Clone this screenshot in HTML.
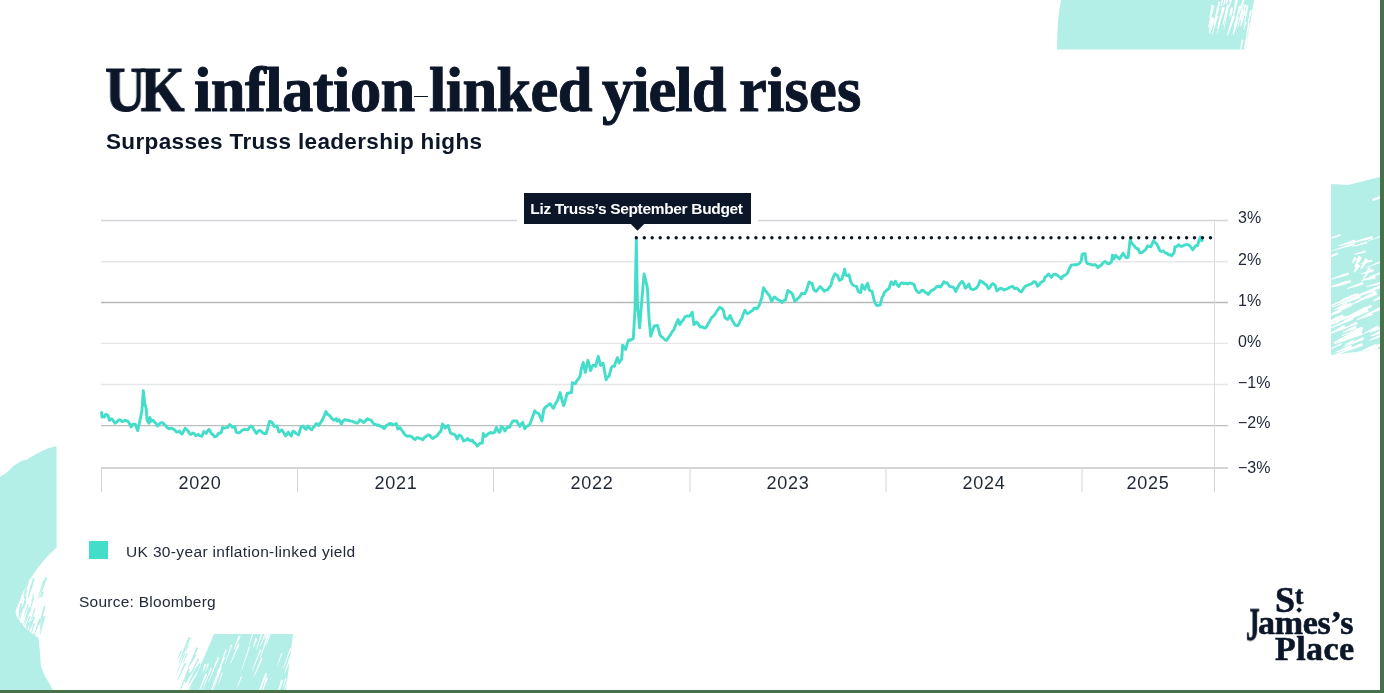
<!DOCTYPE html>
<html><head><meta charset="utf-8"><style>
html,body{margin:0;padding:0;}
body{width:1384px;height:693px;position:relative;overflow:hidden;background:#fff;font-family:"Liberation Sans",sans-serif;}
.abs{position:absolute;}
.tw,#sub,.yl,.xl,#tip,#legt,#src,.logo{will-change:transform;}
.tw{position:absolute;top:55px;font-family:"Liberation Serif",serif;font-weight:bold;font-size:62.5px;line-height:70px;color:#0b1629;white-space:nowrap;letter-spacing:-1.55px;-webkit-text-stroke:1px #0b1629;}
#sub{position:absolute;left:106px;top:127px;font-size:22.5px;line-height:30px;letter-spacing:0.35px;font-weight:bold;color:#0b1629;white-space:nowrap;}
.yl{position:absolute;left:1238px;font-size:16px;line-height:20px;color:#1e2638;white-space:nowrap;}
.xl{position:absolute;top:473px;width:100px;text-align:center;font-size:18px;letter-spacing:0.7px;line-height:20px;color:#1e2638;}
#tip{position:absolute;left:524px;top:193px;width:227px;height:31px;background:#0b1629;color:#fff;font-weight:bold;font-size:15.5px;line-height:31px;text-align:center;letter-spacing:-0.33px;text-indent:-2px;white-space:nowrap;}
#leg{position:absolute;left:89px;top:541px;width:19px;height:18px;background:#43ddc9;}
#legt{position:absolute;left:126px;top:542px;font-size:15.5px;letter-spacing:0.35px;line-height:20px;color:#222a3a;white-space:nowrap;}
#src{position:absolute;left:79px;top:592px;font-size:15.5px;letter-spacing:0.25px;line-height:20px;color:#222a3a;white-space:nowrap;}
.logo{position:absolute;font-family:"Liberation Serif",serif;font-weight:bold;color:#0b1629;-webkit-text-stroke:0.6px #0b1629;white-space:nowrap;}
</style></head><body>
<svg class="abs" style="left:0;top:0" width="1384" height="693" viewBox="0 0 1384 693">
  <defs>
   <clipPath id="cT"><path d="M1061 0 L1254 0 L1249 30 L1246 49.5 L1057 49.5 Q1057 20 1061 0 Z"/></clipPath>
   <clipPath id="cR"><path d="M1331 184 L1348 185 L1380 177 L1380 349 L1331 355 Z"/></clipPath>
   <clipPath id="cB"><path d="M214 634 L293 634 L286 690 L190 690 Z"/></clipPath>
  </defs>
  <path d="M1061 0 L1254 0 L1249 30 L1246 49.5 L1057 49.5 Q1057 20 1061 0 Z" fill="#b3efe7"/>
  <g clip-path="url(#cT)" fill="#fff"><polygon points="1212.4,35.0 1218.1,16.1 1216.4,15.7 1211.9,34.9"/><polygon points="1224.0,29.5 1228.4,9.8 1227.0,9.5 1223.6,29.4"/><polygon points="1236.9,22.6 1242.3,3.6 1241.1,3.3 1236.6,22.5"/><polygon points="1233.5,18.2 1239.0,-4.1 1236.0,-4.7 1232.6,18.1"/><polygon points="1208.7,27.5 1214.4,5.3 1212.5,4.9 1208.1,27.3"/><polygon points="1223.8,5.8 1227.1,-3.7 1225.1,-4.2 1223.2,5.6"/><polygon points="1217.3,11.8 1220.3,2.3 1218.3,1.8 1216.7,11.7"/><polygon points="1209.4,33.0 1213.7,17.6 1211.3,17.0 1208.7,32.9"/><polygon points="1243.8,29.8 1246.8,22.2 1245.0,21.6 1243.3,29.6"/><polygon points="1233.4,34.7 1238.2,22.0 1235.4,21.2 1232.6,34.5"/><polygon points="1218.2,28.3 1224.9,7.4 1222.1,6.7 1217.4,28.1"/><polygon points="1229.7,6.2 1233.3,-3.6 1230.5,-4.3 1228.9,6.0"/><polygon points="1214.2,25.6 1219.5,7.7 1217.1,7.1 1213.4,25.4"/><polygon points="1223.2,25.0 1228.9,5.8 1226.7,5.3 1222.6,24.9"/><polygon points="1226.4,4.2 1229.5,-1.9 1227.0,-2.7 1225.7,4.0"/><polygon points="1229.6,16.2 1233.3,7.9 1231.2,7.2 1229.0,16.0"/><polygon points="1234.4,26.6 1240.6,6.0 1239.0,5.6 1233.9,26.5"/><polygon points="1241.7,24.3 1246.1,10.7 1244.4,10.2 1241.2,24.1"/><polygon points="1240.8,9.9 1248.0,-8.9 1245.3,-9.8 1240.0,9.6"/><polygon points="1234.3,31.8 1239.0,17.1 1236.7,16.6 1233.7,31.6"/><polygon points="1210.1,34.0 1214.8,18.5 1213.3,18.0 1209.6,33.9"/><polygon points="1225.6,16.7 1229.8,5.1 1227.6,4.5 1225.0,16.5"/><polygon points="1231.0,17.0 1232.9,10.7 1231.3,10.4 1230.5,16.9"/><polygon points="1227.8,35.7 1234.9,16.5 1232.2,15.7 1227.0,35.4"/><polygon points="1217.4,34.2 1221.4,16.5 1220.0,16.2 1217.0,34.1"/><polygon points="1209.3,27.8 1212.6,17.8 1211.3,17.4 1208.9,27.7"/><polygon points="1221.4,6.5 1224.1,-2.0 1221.9,-2.5 1220.8,6.3"/><polygon points="1218.0,28.3 1222.3,14.7 1220.5,14.3 1217.5,28.1"/><polygon points="1209.7,18.3 1213.0,5.1 1211.5,4.8 1209.2,18.2"/><polygon points="1240.4,20.1 1244.1,11.0 1241.8,10.3 1239.7,19.8"/><polygon points="1245.8,41.8 1249.7,23.1 1248.1,22.8 1245.3,41.7"/><polygon points="1248.2,24.4 1251.9,10.7 1250.0,10.3 1247.6,24.2"/><polygon points="1240.9,26.7 1243.5,17.9 1241.3,17.5 1240.3,26.5"/><polygon points="1239.1,59.0 1243.5,39.9 1241.6,39.5 1238.5,58.8"/><polygon points="1241.7,17.7 1244.0,3.6 1242.9,3.4 1241.4,17.7"/><polygon points="1242.6,17.9 1246.2,4.8 1244.6,4.4 1242.1,17.8"/><polygon points="1247.4,42.6 1250.5,28.9 1248.5,28.5 1246.8,42.5"/><polygon points="1242.8,59.7 1247.6,40.4 1245.4,39.9 1242.1,59.6"/><polygon points="1244.0,24.8 1246.8,13.7 1245.7,13.5 1243.7,24.8"/><polygon points="1245.4,50.1 1249.0,38.0 1246.6,37.4 1244.7,49.9"/><polygon points="1238.0,27.6 1243.1,9.4 1241.4,9.0 1237.5,27.5"/><polygon points="1245.6,20.7 1248.5,5.4 1246.4,5.1 1244.9,20.6"/></g>
  <path d="M1331 184 L1348 185 L1380 177 L1380 349 L1331 355 Z" fill="#b3efe7"/>
  <g clip-path="url(#cR)" fill="#fff"><polygon points="1373.6,288.6 1382.4,286.8 1382.0,285.2 1373.4,288.1"/><polygon points="1360.7,274.5 1373.9,271.4 1373.2,269.0 1360.5,273.8"/><polygon points="1352.0,247.1 1367.3,243.4 1366.7,241.3 1351.8,246.4"/><polygon points="1371.5,290.6 1388.5,285.3 1387.7,283.2 1371.3,290.0"/><polygon points="1325.1,240.4 1340.8,235.8 1340.2,233.9 1324.9,239.9"/><polygon points="1366.4,268.0 1383.4,261.9 1382.7,260.1 1366.2,267.5"/><polygon points="1338.8,246.3 1355.6,242.5 1354.7,239.4 1338.6,245.4"/><polygon points="1329.2,287.5 1351.1,282.7 1350.4,280.1 1329.0,286.7"/><polygon points="1361.5,280.9 1375.7,278.4 1375.0,275.3 1361.3,280.0"/><polygon points="1329.1,280.2 1349.2,274.6 1348.5,272.4 1328.9,279.6"/><polygon points="1347.1,289.1 1363.5,284.5 1362.6,281.8 1346.8,288.3"/><polygon points="1366.5,287.0 1382.5,283.7 1381.8,281.3 1366.3,286.3"/><polygon points="1360.8,264.3 1372.5,261.6 1371.9,259.6 1360.6,263.7"/><polygon points="1333.2,287.6 1345.7,284.3 1344.7,281.4 1332.9,286.7"/><polygon points="1369.8,276.9 1386.4,272.8 1385.7,270.5 1369.6,276.3"/><polygon points="1354.2,254.7 1365.8,252.5 1365.2,250.2 1354.0,254.0"/><polygon points="1350.6,243.4 1372.9,238.5 1372.2,235.9 1350.4,242.6"/><polygon points="1336.3,278.1 1345.1,275.9 1344.2,273.5 1336.0,277.4"/><polygon points="1337.4,284.9 1347.2,283.1 1346.6,280.8 1337.2,284.2"/><polygon points="1331.6,251.0 1354.8,245.1 1354.1,243.0 1331.5,250.4"/><polygon points="1327.5,258.0 1338.2,254.8 1337.2,252.3 1327.3,257.2"/><polygon points="1367.9,241.2 1388.0,234.5 1387.4,233.0 1367.8,240.8"/><polygon points="1373.5,301.5 1383.5,298.0 1381.9,294.7 1373.0,300.6"/><polygon points="1328.9,334.9 1345.9,327.9 1344.4,324.8 1328.5,334.0"/><polygon points="1366.9,315.0 1390.0,306.7 1388.6,303.5 1366.5,314.0"/><polygon points="1371.3,336.6 1382.1,333.3 1380.7,330.1 1370.9,335.6"/><polygon points="1332.1,307.5 1361.0,297.8 1360.0,295.1 1331.8,306.7"/><polygon points="1358.3,354.6 1380.4,346.4 1379.2,343.6 1357.9,353.8"/><polygon points="1335.6,352.8 1352.4,347.8 1351.3,344.8 1335.3,351.9"/><polygon points="1349.8,305.9 1376.9,293.5 1375.6,290.8 1349.4,305.1"/><polygon points="1328.7,325.6 1339.0,322.4 1337.6,319.2 1328.3,324.7"/><polygon points="1344.9,321.4 1368.8,311.4 1367.3,308.3 1344.5,320.5"/><polygon points="1341.6,330.0 1357.7,324.0 1356.6,321.4 1341.3,329.2"/><polygon points="1341.7,335.9 1363.2,328.8 1362.6,326.9 1341.5,335.3"/><polygon points="1339.4,320.7 1358.3,315.0 1357.0,311.7 1339.0,319.7"/><polygon points="1350.8,318.1 1362.4,313.6 1360.8,310.6 1350.4,317.1"/><polygon points="1349.9,316.0 1366.3,308.8 1365.2,306.6 1349.6,315.3"/><polygon points="1320.0,330.1 1346.5,318.1 1345.2,315.4 1319.6,329.3"/><polygon points="1355.9,297.2 1374.9,291.3 1373.7,288.2 1355.5,296.3"/><polygon points="1343.6,347.2 1364.2,339.4 1363.1,336.9 1343.3,346.5"/><polygon points="1369.9,340.7 1390.0,333.4 1388.8,330.5 1369.6,339.8"/><polygon points="1334.6,344.2 1362.7,334.8 1361.7,332.1 1334.3,343.4"/><polygon points="1320.8,327.0 1343.7,316.4 1342.6,314.3 1320.5,326.3"/><polygon points="1357.3,320.0 1373.0,315.0 1372.3,313.2 1357.1,319.5"/><polygon points="1341.3,300.4 1355.8,295.6 1354.9,293.5 1341.1,299.7"/><polygon points="1334.5,310.2 1346.0,305.6 1344.8,303.2 1334.1,309.5"/><polygon points="1333.8,343.5 1362.9,329.5 1361.4,326.6 1333.4,342.6"/><polygon points="1344.7,345.1 1354.9,341.4 1354.0,339.4 1344.5,344.5"/><polygon points="1337.7,342.8 1362.6,331.7 1361.4,329.4 1337.3,342.1"/><polygon points="1337.3,309.5 1348.1,305.2 1346.8,302.6 1336.9,308.7"/><polygon points="1369.5,332.7 1380.3,329.1 1379.3,326.6 1369.2,331.9"/><polygon points="1328.6,323.1 1338.5,319.1 1337.1,316.3 1328.1,322.3"/><polygon points="1348.2,357.5 1376.3,346.0 1375.4,344.0 1348.0,356.9"/><polygon points="1324.5,318.9 1352.2,305.5 1350.7,302.6 1324.0,318.0"/><polygon points="1343.1,332.7 1356.8,328.7 1355.7,325.6 1342.8,331.8"/><polygon points="1344.6,319.6 1372.2,306.9 1371.0,304.5 1344.2,318.9"/><polygon points="1330.8,306.0 1359.1,295.4 1358.0,292.9 1330.5,305.2"/><polygon points="1364.4,353.3 1378.3,348.9 1377.4,346.6 1364.1,352.6"/><polygon points="1357.0,320.0 1380.3,309.2 1379.3,307.2 1356.7,319.5"/><polygon points="1326.3,316.6 1341.3,312.1 1340.4,309.6 1326.0,315.9"/><polygon points="1324.6,331.2 1353.1,319.7 1352.0,317.1 1324.2,330.4"/><polygon points="1353.6,297.8 1384.4,286.7 1383.3,283.9 1353.2,296.9"/><polygon points="1366.3,298.8 1377.2,294.7 1376.3,292.8 1366.0,298.2"/><polygon points="1367.9,350.5 1386.7,344.0 1385.6,341.3 1367.6,349.7"/><polygon points="1332.2,356.4 1363.1,345.8 1362.0,342.9 1331.9,355.5"/><polygon points="1362.4,334.6 1378.7,327.6 1377.7,325.5 1362.1,334.0"/><polygon points="1326.2,351.3 1342.0,344.5 1341.2,342.9 1325.9,350.8"/><polygon points="1363.7,279.5 1371.4,268.8 1368.6,267.2 1362.9,279.0"/><polygon points="1356.3,265.6 1360.8,260.1 1357.9,258.4 1355.4,265.1"/><polygon points="1352.8,263.2 1357.0,258.5 1354.3,256.8 1351.9,262.7"/><polygon points="1355.4,267.4 1361.9,257.4 1358.6,255.7 1354.4,266.9"/><polygon points="1361.5,268.9 1369.0,260.4 1365.5,258.0 1360.4,268.2"/><polygon points="1354.7,272.7 1360.6,265.8 1357.1,263.6 1353.7,272.0"/><polygon points="1372,199 1380,196 1380,198.5 1373,201"/></g>
  <path d="M0 477.1 L6.3 473.1 L14.3 465.2 L22.2 460.4 L26.2 460 L37.3 453.3 L47.6 448.5 L56.5 446.1 L56.6 547.5 C50 553 44 560 38.5 567 C33 575 29 580 26.5 585.3 L21 595 L17.5 604 L15.5 612 C17 622 27 630 38.5 638 L39.8 650.5 L40.9 666 L44.2 674.8 L53 690 L0 690 Z" fill="#b3efe7"/>
  <g fill="#b3efe7"><polygon points="23.7,595.2 26.7,583.2 25.7,583.0 23.4,595.1"/><polygon points="27.1,639.1 32.2,621.0 30.4,620.5 26.5,639.0"/><polygon points="31.5,602.1 33.9,593.7 33.0,593.5 31.2,602.1"/><polygon points="40.3,634.7 45.3,616.5 43.5,616.0 39.7,634.6"/><polygon points="24.1,623.8 30.6,607.3 28.7,606.7 23.6,623.6"/><polygon points="19.4,622.5 23.8,606.3 22.4,606.0 19.0,622.4"/><polygon points="28.2,598.6 34.8,578.7 32.8,578.1 27.6,598.4"/><polygon points="24.4,636.7 29.9,622.6 28.0,621.9 23.8,636.5"/><polygon points="30.1,612.3 34.2,597.3 32.8,597.0 29.7,612.2"/><polygon points="25.8,627.9 28.0,621.6 27.2,621.3 25.5,627.8"/><polygon points="23.9,617.2 28.9,604.6 27.7,604.1 23.5,617.0"/><polygon points="23.0,609.2 25.8,600.4 24.2,600.0 22.5,609.1"/><polygon points="26.3,626.7 30.5,616.4 29.0,615.8 25.8,626.5"/><polygon points="20.4,591.8 23.8,582.7 22.0,582.2 19.8,591.6"/><polygon points="24.2,604.9 26.6,596.4 25.2,596.1 23.8,604.8"/><polygon points="33.1,638.9 40.9,619.1 39.2,618.5 32.6,638.7"/><polygon points="16.9,608.9 23.2,588.3 21.4,587.9 16.4,608.7"/><polygon points="40.5,624.3 45.4,605.9 44.2,605.6 40.2,624.3"/><polygon points="28.9,596.8 32.7,585.2 30.6,584.7 28.3,596.6"/><polygon points="18.4,590.5 21.3,582.3 19.4,581.8 17.8,590.4"/><polygon points="23.9,599.5 29.5,578.5 28.1,578.1 23.5,599.4"/><polygon points="19.7,591.1 22.3,582.7 20.6,582.3 19.2,590.9"/><polygon points="19.2,613.5 22.2,603.9 20.1,603.4 18.6,613.3"/><polygon points="30.8,628.8 35.0,617.0 32.9,616.4 30.2,628.6"/><polygon points="24.5,607.8 26.5,601.5 25.2,601.2 24.0,607.7"/><polygon points="39.7,632.4 43.3,618.9 42.5,618.7 39.4,632.3"/><polygon points="24.3,599.2 27.1,589.9 25.2,589.4 23.7,599.1"/><polygon points="18.6,637.7 23.3,623.4 21.2,622.9 18.0,637.6"/><polygon points="39.2,625.7 45.0,608.0 43.2,607.5 38.7,625.6"/><polygon points="18.3,604.1 25.6,585.5 23.7,584.8 17.7,603.9"/><polygon points="24.7,625.8 31.2,608.2 29.6,607.7 24.2,625.7"/><polygon points="29.6,624.8 35.6,608.9 34.5,608.5 29.2,624.7"/><polygon points="40.0,598.1 47.1,577.8 45.1,577.1 39.4,597.9"/><polygon points="19.2,632.9 22.3,625.4 20.3,624.8 18.6,632.7"/><polygon points="18.2,600.1 23.8,584.9 22.2,584.4 17.8,600.0"/><polygon points="41.9,598.0 43.8,592.2 41.8,591.7 41.2,597.8"/><polygon points="38.1,598.8 44.9,581.1 43.1,580.5 37.6,598.7"/><polygon points="31.9,632.5 34.8,623.7 33.1,623.3 31.3,632.3"/><polygon points="40.1,629.3 43.5,616.2 42.0,615.9 39.6,629.2"/><polygon points="18.1,620.4 22.8,607.4 20.9,606.8 17.6,620.3"/></g>
  <path d="M214 634 L293 634 L286 690 L190 690 Z" fill="#b3efe7"/>
  <g fill="#b3efe7"><polygon points="186.8,682.0 199.2,659.2 197.8,658.4 186.4,681.8"/><polygon points="199.4,689.2 205.6,678.8 203.5,677.7 198.8,688.9"/><polygon points="186.0,695.1 196.3,678.3 194.6,677.4 185.5,694.8"/><polygon points="191.9,661.4 198.2,648.0 196.3,647.2 191.3,661.2"/><polygon points="189.7,683.1 199.1,668.4 196.7,667.1 189.0,682.7"/><polygon points="189.6,677.4 195.2,668.4 194.3,667.8 189.3,677.2"/><polygon points="179.2,663.2 190.8,638.0 188.5,637.0 178.5,662.9"/><polygon points="182.4,658.0 188.9,645.6 188.0,645.1 182.1,657.9"/><polygon points="182.7,664.6 187.7,653.6 186.5,653.1 182.4,664.4"/><polygon points="197.5,685.3 205.9,666.8 204.7,666.3 197.1,685.1"/><polygon points="177.8,659.5 182.0,651.3 180.6,650.6 177.4,659.3"/><polygon points="178.1,679.7 186.3,663.6 184.5,662.8 177.5,679.5"/><polygon points="188.6,684.4 195.4,671.3 194.3,670.8 188.3,684.3"/><polygon points="185.4,682.5 190.2,673.1 187.7,672.1 184.6,682.1"/><polygon points="188.6,668.1 196.4,655.3 194.0,654.0 187.9,667.7"/><polygon points="176.7,673.7 185.4,654.1 184.4,653.6 176.4,673.6"/><polygon points="189.7,683.3 198.3,667.3 196.6,666.4 189.2,683.1"/><polygon points="178.3,695.7 190.0,668.9 188.1,668.2 177.8,695.5"/><polygon points="184.7,685.6 191.1,671.8 190.0,671.4 184.3,685.4"/><polygon points="193.6,676.3 201.0,664.1 199.0,663.0 193.0,676.0"/><polygon points="200.1,687.7 209.5,672.9 207.2,671.6 199.4,687.4"/><polygon points="196.4,685.3 207.1,667.4 205.3,666.4 195.9,685.0"/></g>
  <g clip-path="url(#cB)" fill="#fff"><polygon points="218.8,672.1 225.1,657.3 223.5,656.6 218.3,671.9"/><polygon points="202.0,647.4 210.6,622.4 209.3,622.0 201.7,647.3"/><polygon points="285.1,672.7 295.1,648.3 293.6,647.7 284.6,672.6"/><polygon points="208.7,682.2 219.4,657.3 217.8,656.7 208.3,682.0"/><polygon points="256.8,649.4 265.2,626.2 263.5,625.6 256.3,649.2"/><polygon points="199.5,691.0 207.3,674.4 205.5,673.6 198.9,690.8"/><polygon points="261.8,693.5 268.0,678.1 266.1,677.4 261.2,693.3"/><polygon points="282.8,688.1 286.3,678.6 285.2,678.2 282.5,688.0"/><polygon points="283.4,668.7 291.3,648.4 290.0,648.0 283.0,668.6"/><polygon points="230.9,663.3 239.7,644.4 238.0,643.7 230.4,663.1"/><polygon points="256.8,698.6 267.3,673.9 265.2,673.1 256.2,698.4"/><polygon points="209.9,696.0 220.8,668.9 218.8,668.1 209.2,695.8"/><polygon points="260.4,658.4 269.2,633.6 267.5,633.1 259.9,658.2"/><polygon points="200.2,695.6 211.9,668.3 210.9,667.8 199.9,695.5"/><polygon points="234.4,649.2 240.7,636.2 238.8,635.4 233.8,649.0"/><polygon points="202.8,672.8 206.3,664.5 204.5,663.8 202.3,672.6"/><polygon points="276.6,698.1 283.4,680.2 281.2,679.5 275.9,697.9"/><polygon points="205.7,671.8 209.0,663.7 207.8,663.3 205.3,671.6"/><polygon points="253.8,647.1 257.4,638.8 255.4,638.2 253.2,646.9"/><polygon points="283.7,692.0 289.8,676.8 288.3,676.3 283.2,691.8"/><polygon points="254.1,676.8 262.8,658.4 261.2,657.7 253.6,676.6"/><polygon points="242.1,669.5 250.0,647.0 248.8,646.6 241.7,669.4"/><polygon points="284.8,672.7 291.8,653.9 290.8,653.5 284.5,672.6"/><polygon points="249.4,645.5 256.1,625.1 254.4,624.5 248.9,645.4"/><polygon points="252.4,670.9 261.4,649.7 260.0,649.2 252.0,670.7"/><polygon points="264.8,639.6 269.2,631.3 267.4,630.6 264.3,639.4"/><polygon points="219.4,669.6 226.7,649.8 225.3,649.4 219.0,669.4"/><polygon points="224.9,664.7 232.2,644.9 230.9,644.5 224.5,664.6"/><polygon points="266.5,645.3 273.7,626.1 271.8,625.5 266.0,645.1"/><polygon points="218.0,685.3 222.8,673.0 221.7,672.6 217.6,685.2"/><polygon points="260.1,646.7 266.4,633.0 265.1,632.5 259.7,646.6"/><polygon points="237.5,687.5 242.2,676.7 240.9,676.2 237.1,687.3"/><polygon points="277.6,665.4 282.4,653.4 281.3,653.0 277.2,665.3"/><polygon points="213.2,691.8 221.9,666.8 220.7,666.4 212.9,691.7"/></g>
  <line x1="101" y1="220.5" x2="1228" y2="220.5" stroke="#d3d5d9" stroke-width="1.3"/><line x1="101" y1="261.8" x2="1228" y2="261.8" stroke="#e6e7ea" stroke-width="1.4"/><line x1="101" y1="302.5" x2="1228" y2="302.5" stroke="#b7b8ba" stroke-width="1.3"/><line x1="101" y1="343.4" x2="1228" y2="343.4" stroke="#e6e7ea" stroke-width="1.4"/><line x1="101" y1="384.5" x2="1228" y2="384.5" stroke="#e6e7ea" stroke-width="1.4"/><line x1="101" y1="425.6" x2="1228" y2="425.6" stroke="#bdbec0" stroke-width="1.3"/><line x1="101" y1="468" x2="1228" y2="468" stroke="#d3d5d9" stroke-width="2"/><line x1="101.5" y1="467" x2="101.5" y2="492" stroke="#d3d5d9" stroke-width="1"/><line x1="297.5" y1="467" x2="297.5" y2="492" stroke="#d3d5d9" stroke-width="1"/><line x1="493.5" y1="467" x2="493.5" y2="492" stroke="#d3d5d9" stroke-width="1"/><line x1="690" y1="467" x2="690" y2="492" stroke="#d3d5d9" stroke-width="1"/><line x1="886" y1="467" x2="886" y2="492" stroke="#d3d5d9" stroke-width="1"/><line x1="1082" y1="467" x2="1082" y2="492" stroke="#d3d5d9" stroke-width="1"/><line x1="1214.5" y1="467" x2="1214.5" y2="492" stroke="#d3d5d9" stroke-width="1"/><line x1="1214.5" y1="220" x2="1214.5" y2="467" stroke="#dcdee2" stroke-width="1"/>
  <rect x="517" y="186" width="241" height="40" fill="#fff"/>
  <path d="M101.6 412.4 L102.0 417.0 L103.2 416.7 L104.4 417.0 L105.8 414.2 L108.1 415.6 L109.5 420.3 L110.7 419.0 L111.9 418.9 L113.6 421.3 L115.2 423.2 L117.5 421.3 L118.9 419.9 L120.3 419.9 L122.2 421.7 L123.6 421.1 L125.0 420.3 L126.4 420.6 L127.8 421.3 L129.4 423.4 L131.1 426.9 L133.0 424.1 L135.3 424.1 L137.7 430.7 L140.0 420.3 L141.9 411.0 L143.3 390.8 L144.7 403.5 L146.1 408.1 L147.1 420.3 L148.9 423.2 L149.9 417.5 L151.3 421.3 L153.2 420.3 L154.6 422.2 L156.0 423.4 L157.4 426.0 L158.8 424.8 L160.2 423.1 L161.6 422.7 L163.0 423.0 L164.4 424.6 L166.0 425.9 L167.5 427.9 L169.1 428.8 L171.0 428.2 L172.9 428.8 L174.8 430.0 L176.6 432.1 L178.0 431.8 L179.4 431.1 L180.8 433.2 L182.2 433.9 L183.6 431.2 L185.1 428.3 L186.5 429.3 L187.9 430.7 L189.3 433.3 L190.7 434.4 L193.0 433.0 L194.4 433.7 L195.8 435.8 L198.2 434.4 L200.1 435.9 L201.9 436.3 L203.8 431.6 L206.1 433.5 L207.5 431.1 L208.9 429.3 L210.1 430.8 L211.3 433.5 L212.9 434.5 L214.6 436.8 L216.9 435.9 L218.3 433.5 L219.7 432.9 L221.1 433.0 L222.5 427.4 L223.9 428.2 L225.4 427.9 L227.7 427.4 L229.6 424.6 L231.0 425.5 L232.4 427.4 L233.6 427.1 L234.8 426.5 L236.2 432.1 L238.5 433.0 L239.9 432.3 L241.3 431.2 L242.7 430.0 L244.1 429.3 L246.0 429.6 L247.9 429.8 L249.6 427.2 L251.2 426.0 L252.6 427.2 L254.0 429.8 L256.4 433.5 L258.7 430.7 L259.9 430.5 L261.1 431.2 L262.5 432.6 L263.9 433.5 L266.2 433.5 L267.9 427.3 L269.5 421.3 L270.9 421.7 L272.3 422.7 L274.2 426.5 L275.6 426.4 L277.0 426.0 L278.9 432.1 L280.3 430.9 L281.7 429.8 L283.6 432.5 L285.5 435.9 L286.9 434.5 L288.3 432.1 L289.7 434.3 L291.1 435.9 L293.0 431.2 L294.4 431.7 L295.8 433.2 L297.2 434.0 L298.6 434.9 L301.0 426.9 L303.3 426.0 L304.7 428.3 L306.1 429.3 L308.0 426.0 L309.9 428.3 L311.8 429.8 L313.2 427.4 L314.6 426.4 L316.0 423.6 L317.4 423.9 L318.8 425.5 L320.5 422.8 L322.1 420.4 L324.0 416.3 L325.9 411.4 L327.7 414.7 L328.8 415.0 L330.2 416.1 L331.6 418.3 L333.9 420.2 L335.1 419.5 L336.3 418.8 L337.2 421.1 L339.1 419.7 L341.4 424.0 L343.0 421.1 L344.7 419.7 L346.6 420.2 L348.5 420.2 L350.4 421.1 L352.2 421.1 L354.1 422.2 L356.0 423.0 L357.4 423.0 L358.6 422.0 L359.8 419.7 L361.6 420.8 L363.5 422.5 L365.4 421.0 L367.3 418.8 L369.1 419.7 L371.0 420.2 L372.6 422.4 L374.3 424.4 L375.7 424.5 L377.1 425.3 L378.5 424.9 L379.9 426.3 L381.4 426.3 L382.8 427.4 L384.2 428.6 L386.5 425.4 L388.1 424.7 L389.8 423.5 L391.2 423.5 L392.6 424.9 L394.5 424.5 L396.4 423.5 L397.8 429.1 L400.1 427.7 L401.6 430.0 L403.0 431.9 L404.4 434.1 L405.8 435.3 L407.2 436.2 L408.9 435.9 L410.5 436.2 L412.1 437.1 L413.6 438.7 L415.2 439.5 L416.6 437.8 L418.0 437.6 L419.6 438.3 L421.1 438.6 L422.7 439.9 L424.5 437.4 L426.4 436.2 L428.3 434.8 L429.9 435.3 L431.4 437.7 L433.0 438.5 L434.9 436.8 L436.8 436.2 L439.1 432.9 L441.0 431.0 L442.4 424.0 L443.8 425.7 L445.2 428.2 L446.6 426.6 L448.1 425.4 L450.4 432.9 L452.2 434.0 L454.0 434.0 L455.6 435.8 L457.1 439.0 L459.1 435.0 L461.1 436.0 L462.4 438.5 L463.6 441.1 L465.0 440.3 L466.3 440.0 L467.7 438.5 L469.7 440.6 L470.9 440.9 L472.2 440.1 L473.9 442.7 L475.6 443.7 L477.3 446.1 L478.8 444.5 L480.3 443.1 L482.3 443.1 L483.3 433.5 L485.4 436.5 L487.4 434.5 L488.9 433.3 L490.4 432.5 L492.4 433.1 L494.4 432.5 L496.5 427.4 L498.0 430.7 L499.5 432.5 L501.5 426.4 L503.2 428.1 L505.0 431.0 L506.6 427.9 L508.1 427.1 L509.6 427.4 L511.1 424.0 L512.6 421.4 L514.0 420.8 L515.3 421.0 L516.7 420.9 L518.2 423.8 L519.7 426.4 L521.2 424.0 L522.7 422.4 L524.7 428.9 L526.4 426.6 L528.1 425.8 L529.8 424.4 L531.5 419.7 L533.1 415.4 L534.8 410.8 L536.2 412.5 L537.5 413.1 L538.9 413.8 L540.4 417.4 L541.9 420.9 L543.9 409.2 L546.0 406.7 L548.0 405.4 L550.0 403.7 L551.8 406.2 L553.5 408.2 L555.3 404.0 L557.1 401.2 L558.6 397.5 L560.1 392.6 L561.9 399.6 L563.6 405.7 L565.4 400.0 L567.2 393.1 L568.6 393.4 L570.1 392.6 L571.5 392.6 L572.4 382.8 L573.9 383.1 L575.4 383.7 L576.7 380.9 L578.0 379.4 L580.2 375.9 L581.0 369.8 L583.2 362.5 L585.3 372.4 L586.6 366.6 L587.9 360.3 L589.2 364.8 L590.5 370.7 L592.7 365.5 L594.2 365.3 L595.7 366.4 L597.0 360.9 L598.3 356.4 L600.5 365.5 L601.8 363.9 L603.1 363.3 L604.6 371.3 L606.1 379.8 L607.7 377.1 L609.2 375.9 L611.3 367.7 L612.8 366.3 L614.4 366.4 L615.9 361.5 L617.4 357.7 L619.1 362.9 L620.4 360.5 L621.7 359.4 L622.6 345.2 L624.1 347.1 L625.6 349.5 L627.1 344.0 L628.6 340.0 L630.2 340.2 L631.7 339.3 L633.3 338.7 L635.0 309.7 L636.3 239.1 L637.4 303.0 L639.6 327.9 L641.6 303.0 L642.9 287.9 L644.1 274.0 L645.8 280.7 L647.4 288.1 L649.1 319.6 L650.7 336.2 L652.4 331.0 L654.0 326.3 L655.7 325.6 L657.4 325.4 L658.6 329.4 L659.9 334.6 L661.5 336.8 L663.2 337.9 L664.9 339.9 L666.5 340.4 L667.9 338.4 L669.2 336.5 L670.6 334.6 L672.3 331.4 L674.0 329.6 L675.4 325.6 L676.7 322.7 L678.1 319.6 L679.8 324.6 L681.5 321.7 L683.1 320.1 L684.8 317.1 L686.2 316.3 L687.5 315.8 L688.9 316.3 L690.5 315.0 L692.2 312.2 L693.9 324.6 L695.1 323.4 L696.4 322.1 L697.8 323.2 L699.1 325.5 L700.5 327.1 L702.1 326.7 L703.6 327.8 L705.2 328.1 L706.7 326.6 L708.1 323.5 L709.8 321.2 L711.5 317.7 L713.2 316.3 L715.0 314.3 L716.5 311.6 L718.1 309.4 L719.6 307.3 L721.4 308.0 L723.1 309.7 L724.8 317.2 L726.2 318.8 L727.7 319.5 L730.0 315.4 L732.3 320.6 L733.8 323.0 L735.2 325.2 L737.5 325.8 L738.9 323.9 L740.2 320.9 L741.6 318.9 L743.3 314.1 L745.0 310.2 L747.3 313.7 L749.0 313.0 L750.8 311.4 L752.5 310.4 L754.3 307.9 L755.8 308.8 L757.2 308.5 L758.6 306.4 L760.0 303.3 L761.8 297.5 L763.5 287.7 L765.0 290.3 L766.4 291.8 L767.8 293.9 L769.3 295.2 L771.6 301.6 L773.0 298.9 L774.5 297.0 L776.0 298.2 L777.4 299.3 L778.9 300.2 L780.5 300.8 L782.0 302.7 L783.8 300.5 L785.5 299.8 L787.8 290.6 L789.3 291.4 L790.9 292.5 L792.4 294.1 L794.7 301.0 L796.5 299.9 L798.2 298.1 L799.9 296.5 L801.6 293.5 L803.4 293.4 L805.1 293.5 L807.1 288.4 L809.1 281.9 L810.5 283.3 L812.0 283.1 L813.7 289.4 L815.2 291.0 L816.6 291.2 L818.4 288.7 L820.1 286.6 L822.1 288.5 L824.1 291.2 L826.0 290.1 L827.8 289.8 L829.5 287.0 L831.1 285.1 L832.0 280.4 L833.5 276.6 L834.9 273.8 L837.2 275.2 L839.6 280.4 L841.9 279.0 L843.3 274.2 L844.7 269.1 L845.7 275.2 L847.4 275.6 L849.0 274.7 L850.8 281.8 L852.2 284.2 L853.6 285.5 L855.0 286.0 L856.5 286.5 L858.3 291.6 L859.5 292.3 L860.7 292.6 L862.1 284.6 L863.5 287.4 L864.9 289.3 L866.3 285.6 L867.7 283.2 L869.1 289.8 L870.5 290.8 L872.0 291.2 L874.3 301.0 L875.5 303.8 L876.7 305.3 L878.5 305.5 L880.4 304.8 L881.8 298.2 L883.2 295.6 L884.6 292.1 L886.0 291.0 L887.5 289.4 L888.9 288.8 L891.2 281.8 L893.6 284.6 L895.4 281.3 L897.0 284.4 L898.7 286.5 L901.1 283.2 L902.7 282.9 L904.2 283.7 L905.8 283.2 L907.4 284.0 L908.9 283.0 L910.5 283.2 L912.4 283.7 L914.2 284.6 L915.2 288.3 L916.9 291.2 L918.5 292.6 L920.4 291.8 L922.2 290.2 L923.9 290.9 L925.5 292.6 L926.9 293.0 L928.3 294.5 L930.2 291.8 L932.1 290.2 L933.7 289.6 L935.2 288.2 L936.8 286.5 L938.6 286.2 L940.5 287.0 L942.1 284.9 L943.8 281.8 L945.5 283.0 L947.1 282.7 L948.5 284.9 L949.9 286.5 L951.8 286.9 L953.8 287.7 L955.6 291.5 L957.0 288.8 L958.5 285.9 L960.4 283.0 L962.2 281.2 L963.9 283.9 L965.5 288.2 L967.1 286.9 L968.8 284.0 L970.7 288.7 L972.1 289.4 L973.5 289.6 L975.1 288.7 L976.8 287.7 L978.5 284.9 L980.1 280.7 L982.0 281.7 L983.8 283.0 L985.0 284.3 L986.2 284.5 L988.5 288.7 L989.9 287.5 L991.3 284.8 L992.7 283.5 L995.1 285.4 L997.0 291.0 L998.9 289.2 L1000.7 288.2 L1002.4 288.8 L1004.0 290.1 L1005.4 289.1 L1006.8 289.0 L1008.2 288.2 L1009.6 287.2 L1011.1 286.8 L1012.5 286.3 L1014.8 288.7 L1016.2 288.1 L1017.6 288.7 L1019.5 291.0 L1021.4 292.0 L1023.2 288.9 L1025.1 286.3 L1026.7 285.6 L1028.2 285.2 L1029.8 284.5 L1031.7 283.7 L1033.6 281.6 L1034.8 282.0 L1036.0 282.6 L1037.4 286.3 L1039.0 285.1 L1040.6 282.6 L1042.2 281.7 L1043.9 280.7 L1044.9 277.4 L1046.8 275.8 L1048.6 274.1 L1050.0 275.8 L1051.4 277.4 L1053.3 274.6 L1055.2 274.1 L1057.1 275.1 L1058.5 276.2 L1059.9 277.1 L1061.3 278.8 L1062.7 276.4 L1064.1 275.5 L1065.8 274.8 L1067.4 273.2 L1069.3 268.7 L1071.2 265.2 L1073.1 264.9 L1074.9 264.7 L1076.3 264.8 L1077.6 264.3 L1079.0 263.9 L1081.1 261.4 L1082.1 254.3 L1083.6 253.8 L1085.1 253.8 L1086.1 261.4 L1087.1 263.4 L1088.5 263.8 L1089.8 264.2 L1091.2 264.5 L1092.9 265.3 L1094.5 264.5 L1096.2 265.5 L1097.8 267.5 L1099.5 266.3 L1101.3 265.0 L1103.0 262.8 L1104.8 261.4 L1106.3 262.3 L1107.9 263.9 L1109.7 263.3 L1111.4 261.9 L1112.4 255.3 L1113.9 258.9 L1115.5 255.3 L1117.5 257.1 L1119.5 258.9 L1121.2 256.2 L1123.0 253.3 L1124.8 256.0 L1126.6 257.9 L1128.1 257.4 L1130.1 239.7 L1131.4 242.6 L1132.7 244.2 L1134.2 245.9 L1135.7 247.8 L1137.0 248.5 L1138.2 248.8 L1139.7 252.8 L1141.0 252.6 L1142.3 252.3 L1144.0 250.8 L1145.8 249.3 L1147.8 245.7 L1149.3 246.5 L1150.9 246.7 L1152.2 243.6 L1153.4 240.7 L1155.2 242.5 L1156.9 244.2 L1158.5 247.5 L1160.0 250.8 L1161.5 251.5 L1163.0 250.8 L1164.4 252.0 L1165.7 253.1 L1167.1 253.3 L1168.6 254.9 L1170.1 254.6 L1171.6 255.9 L1172.8 254.4 L1174.1 252.8 L1175.1 246.7 L1176.9 246.4 L1178.7 244.7 L1180.2 246.2 L1182.2 246.2 L1184.2 245.2 L1185.9 244.6 L1187.6 244.6 L1189.3 245.2 L1191.0 247.4 L1192.8 249.8 L1194.9 246.7 L1196.2 245.5 L1197.4 245.7 L1198.9 241.0 L1200.4 237.1 L1202.0 240.7" fill="none" stroke="#43ddc9" stroke-width="2.9" stroke-linejoin="round" stroke-linecap="round"/>
  <circle cx="636.3" cy="237.7" r="1.7" fill="#0b1629"/><circle cx="644.3" cy="237.7" r="1.7" fill="#0b1629"/><circle cx="652.2" cy="237.7" r="1.7" fill="#0b1629"/><circle cx="660.2" cy="237.7" r="1.7" fill="#0b1629"/><circle cx="668.2" cy="237.7" r="1.7" fill="#0b1629"/><circle cx="676.2" cy="237.7" r="1.7" fill="#0b1629"/><circle cx="684.1" cy="237.7" r="1.7" fill="#0b1629"/><circle cx="692.1" cy="237.7" r="1.7" fill="#0b1629"/><circle cx="700.1" cy="237.7" r="1.7" fill="#0b1629"/><circle cx="708.1" cy="237.7" r="1.7" fill="#0b1629"/><circle cx="716.0" cy="237.7" r="1.7" fill="#0b1629"/><circle cx="724.0" cy="237.7" r="1.7" fill="#0b1629"/><circle cx="732.0" cy="237.7" r="1.7" fill="#0b1629"/><circle cx="740.0" cy="237.7" r="1.7" fill="#0b1629"/><circle cx="747.9" cy="237.7" r="1.7" fill="#0b1629"/><circle cx="755.9" cy="237.7" r="1.7" fill="#0b1629"/><circle cx="763.9" cy="237.7" r="1.7" fill="#0b1629"/><circle cx="771.9" cy="237.7" r="1.7" fill="#0b1629"/><circle cx="779.8" cy="237.7" r="1.7" fill="#0b1629"/><circle cx="787.8" cy="237.7" r="1.7" fill="#0b1629"/><circle cx="795.8" cy="237.7" r="1.7" fill="#0b1629"/><circle cx="803.8" cy="237.7" r="1.7" fill="#0b1629"/><circle cx="811.8" cy="237.7" r="1.7" fill="#0b1629"/><circle cx="819.7" cy="237.7" r="1.7" fill="#0b1629"/><circle cx="827.7" cy="237.7" r="1.7" fill="#0b1629"/><circle cx="835.7" cy="237.7" r="1.7" fill="#0b1629"/><circle cx="843.6" cy="237.7" r="1.7" fill="#0b1629"/><circle cx="851.6" cy="237.7" r="1.7" fill="#0b1629"/><circle cx="859.6" cy="237.7" r="1.7" fill="#0b1629"/><circle cx="867.6" cy="237.7" r="1.7" fill="#0b1629"/><circle cx="875.5" cy="237.7" r="1.7" fill="#0b1629"/><circle cx="883.5" cy="237.7" r="1.7" fill="#0b1629"/><circle cx="891.5" cy="237.7" r="1.7" fill="#0b1629"/><circle cx="899.5" cy="237.7" r="1.7" fill="#0b1629"/><circle cx="907.5" cy="237.7" r="1.7" fill="#0b1629"/><circle cx="915.4" cy="237.7" r="1.7" fill="#0b1629"/><circle cx="923.4" cy="237.7" r="1.7" fill="#0b1629"/><circle cx="931.4" cy="237.7" r="1.7" fill="#0b1629"/><circle cx="939.3" cy="237.7" r="1.7" fill="#0b1629"/><circle cx="947.3" cy="237.7" r="1.7" fill="#0b1629"/><circle cx="955.3" cy="237.7" r="1.7" fill="#0b1629"/><circle cx="963.3" cy="237.7" r="1.7" fill="#0b1629"/><circle cx="971.2" cy="237.7" r="1.7" fill="#0b1629"/><circle cx="979.2" cy="237.7" r="1.7" fill="#0b1629"/><circle cx="987.2" cy="237.7" r="1.7" fill="#0b1629"/><circle cx="995.2" cy="237.7" r="1.7" fill="#0b1629"/><circle cx="1003.1" cy="237.7" r="1.7" fill="#0b1629"/><circle cx="1011.1" cy="237.7" r="1.7" fill="#0b1629"/><circle cx="1019.1" cy="237.7" r="1.7" fill="#0b1629"/><circle cx="1027.1" cy="237.7" r="1.7" fill="#0b1629"/><circle cx="1035.0" cy="237.7" r="1.7" fill="#0b1629"/><circle cx="1043.0" cy="237.7" r="1.7" fill="#0b1629"/><circle cx="1051.0" cy="237.7" r="1.7" fill="#0b1629"/><circle cx="1059.0" cy="237.7" r="1.7" fill="#0b1629"/><circle cx="1067.0" cy="237.7" r="1.7" fill="#0b1629"/><circle cx="1074.9" cy="237.7" r="1.7" fill="#0b1629"/><circle cx="1082.9" cy="237.7" r="1.7" fill="#0b1629"/><circle cx="1090.9" cy="237.7" r="1.7" fill="#0b1629"/><circle cx="1098.8" cy="237.7" r="1.7" fill="#0b1629"/><circle cx="1106.8" cy="237.7" r="1.7" fill="#0b1629"/><circle cx="1114.8" cy="237.7" r="1.7" fill="#0b1629"/><circle cx="1122.8" cy="237.7" r="1.7" fill="#0b1629"/><circle cx="1130.8" cy="237.7" r="1.7" fill="#0b1629"/><circle cx="1138.7" cy="237.7" r="1.7" fill="#0b1629"/><circle cx="1146.7" cy="237.7" r="1.7" fill="#0b1629"/><circle cx="1154.7" cy="237.7" r="1.7" fill="#0b1629"/><circle cx="1162.7" cy="237.7" r="1.7" fill="#0b1629"/><circle cx="1170.6" cy="237.7" r="1.7" fill="#0b1629"/><circle cx="1178.6" cy="237.7" r="1.7" fill="#0b1629"/><circle cx="1186.6" cy="237.7" r="1.7" fill="#0b1629"/><circle cx="1194.5" cy="237.7" r="1.7" fill="#0b1629"/><circle cx="1202.5" cy="237.7" r="1.7" fill="#0b1629"/><circle cx="1210.5" cy="237.7" r="1.7" fill="#0b1629"/>
  <path d="M630.3 223.5 L644.7 223.5 L637.5 230.7 Z" fill="#0b1629"/>
</svg>
<div class="abs" style="left:1380px;top:0;width:4px;height:693px;background:#48704a"></div>
<div class="abs" style="left:0;top:690px;width:1384px;height:3px;background:#48704a"></div>
<div class="tw" style="left:105.1px;letter-spacing:-6px;transform:scaleX(0.905);transform-origin:0 0">UK</div>
<div class="tw" style="left:194.2px;letter-spacing:-0.55px">inflation</div>
<div class="abs" style="left:413.5px;top:95.6px;width:14.7px;height:1.7px;background:#0b1629"></div>
<div class="tw" style="left:429px;letter-spacing:-0.66px">linked</div>
<div class="tw" style="left:602.3px;letter-spacing:-1px">yield</div>
<div class="tw" style="left:738.6px;letter-spacing:0.2px">rises</div>
<div id="sub">Surpasses Truss leadership highs</div>
<div id="tip">Liz Truss’s September Budget</div>
<div class="yl" style="top:208.3px">3%</div><div class="yl" style="top:249.9px">2%</div><div class="yl" style="top:290.5px">1%</div><div class="yl" style="top:331.9px">0%</div><div class="yl" style="top:373.1px">−1%</div><div class="yl" style="top:413.4px">−2%</div><div class="yl" style="top:457.5px">−3%</div>
<div class="xl" style="left:149.5px">2020</div><div class="xl" style="left:345.5px">2021</div><div class="xl" style="left:541.8px">2022</div><div class="xl" style="left:738.0px">2023</div><div class="xl" style="left:934.0px">2024</div><div class="xl" style="left:1098.2px">2025</div>
<div id="leg"></div>
<div id="legt">UK 30-year inflation-linked yield</div>
<div id="src">Source: Bloomberg</div>
<div class="logo" style="left:1274.6px;top:582.3px;font-size:36px;line-height:36px">S</div>
<div class="logo" style="left:1294.5px;top:583.3px;font-size:25px;line-height:25px">t</div>
<div class="abs" style="left:1297.2px;top:607.7px;width:4.2px;height:4.2px;background:#0b1629;transform:rotate(45deg)"></div>
<div class="logo" style="left:1245.7px;top:601.5px;font-size:34px;line-height:34px;transform:scale(0.8,1.36);transform-origin:0 0">J</div>
<div class="logo" style="left:1258.2px;top:605.8px;font-size:34px;line-height:34px;letter-spacing:-0.3px">ames’s</div>
<div class="logo" style="left:1275px;top:632.4px;font-size:34px;line-height:34px;letter-spacing:0.4px">Place</div>
</body></html>
